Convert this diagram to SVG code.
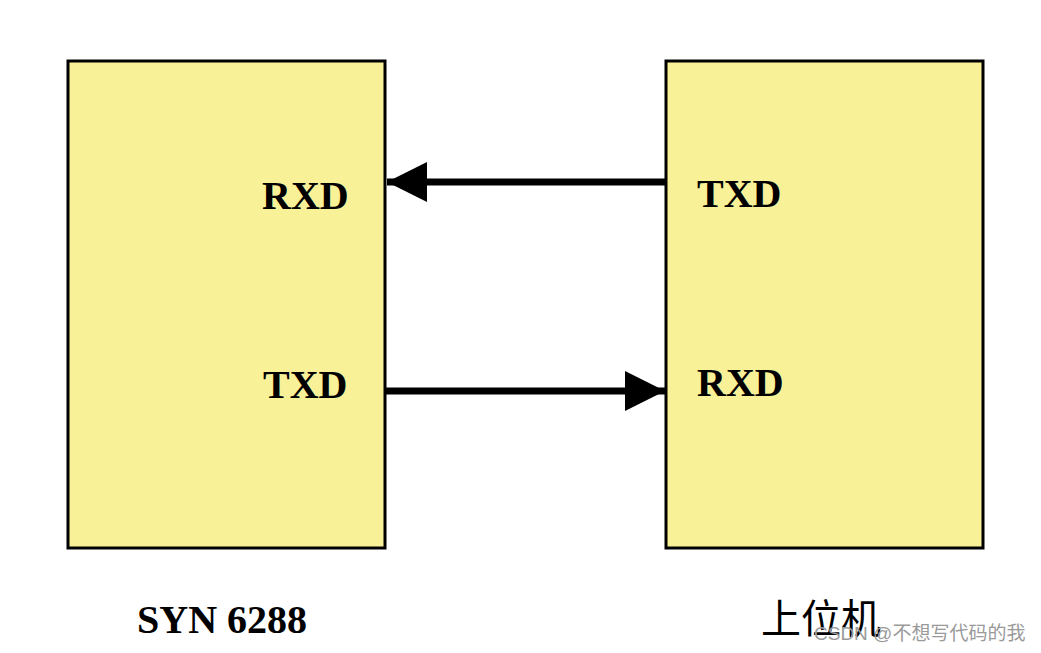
<svg xmlns="http://www.w3.org/2000/svg" width="1041" height="653" viewBox="0 0 1041 653">
<style>
.box{fill:#f8f198;stroke:#000;stroke-width:3}
.lbl{font-family:"Liberation Serif","Times New Roman",serif;font-weight:bold;font-size:40px;fill:#000}
.cjk{font-family:"Liberation Serif","Noto Sans CJK SC",serif;font-size:40px;fill:#000}
.wm{font-family:"Liberation Sans","Noto Sans CJK SC",sans-serif;font-size:19px;fill:#9a9a9a}
.conn{stroke:#000;stroke-width:7;fill:none}
</style>
<defs>
<marker id="ah" markerUnits="userSpaceOnUse" markerWidth="40" markerHeight="40" viewBox="0 0 38 38" refX="38" refY="19" orient="auto">
<path d="M0,0 L38,19 L0,38 Z" fill="#000"/>
</marker>
</defs>
<rect width="1041" height="653" fill="#fff"/>
<g id="node-syn6288">
<rect class="box" x="68" y="61" width="317" height="487"/>
<text class="lbl" x="262" y="209">RXD</text>
<text class="lbl" x="263" y="398">TXD</text>
<text class="lbl" x="137" y="633">SYN 6288</text>
</g>
<g id="node-host">
<rect class="box" x="666" y="61" width="317" height="487"/>
<text class="lbl" x="697" y="207">TXD</text>
<text class="lbl" x="697" y="396">RXD</text>
<text class="cjk" x="761" y="633">上位机</text>
</g>
<g id="connectors">
<line class="conn" x1="665" y1="182" x2="387" y2="182" marker-end="url(#ah)"/>
<line class="conn" x1="386" y1="391" x2="665" y2="391" marker-end="url(#ah)"/>
</g>
<text class="wm" x="814" y="640">CSDN @不想写代码的我</text>
</svg>
